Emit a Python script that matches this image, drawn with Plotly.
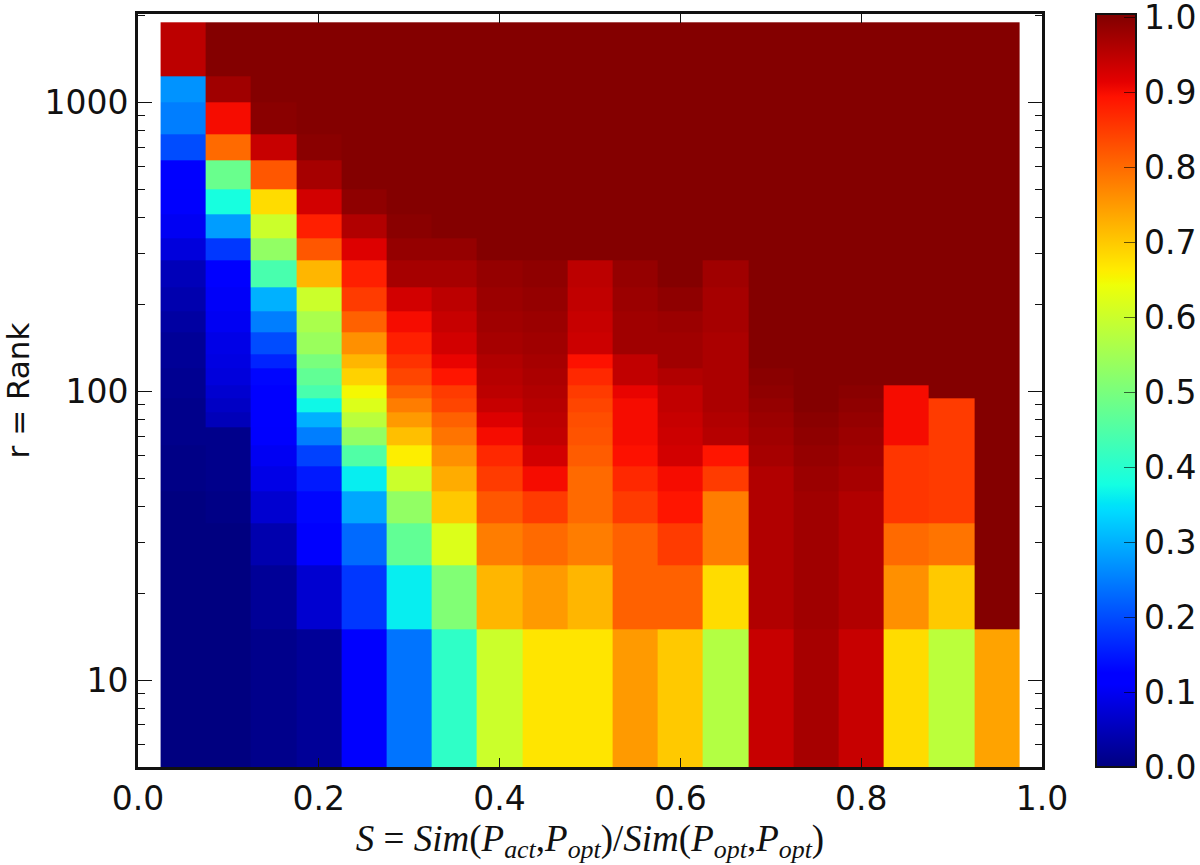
import plotly.graph_objects as go

x_edges = [0.025, 0.075, 0.125, 0.175, 0.225, 0.275, 0.325, 0.375, 0.425, 0.475, 0.525,
           0.575, 0.625, 0.675, 0.725, 0.775, 0.825, 0.875, 0.925, 0.975]
r_edges = [5, 15, 25, 35, 45, 55, 65, 75, 85, 95, 105, 120, 135, 160, 190, 230, 285, 340,
           410, 500, 630, 780, 1000, 1235, 1900]

# each column lists rank rows from the bottom (5-15) to the top (1235-1900)
s05 = [0, 0, 0, 0, .005, .005, .01, .01, .01, .015, .015, .02, .02, .03, .04, .05, .08, .10, .11, .115, .20, .25, .27, .95]
s10 = [0, 0, 0, .005, .01, .01, .01, .05, .06, .07, .08, .085, .09, .10, .105, .115, .18, .28, .38, .48, .80, .90, .975, 1]
s15 = [.01, .02, .04, .07, .09, .10, .11, .115, .12, .125, .13, .16, .20, .25, .30, .44, .53, .60, .68, .82, .94, .995, 1, 1]
s20 = [.02, .07, .11, .13, .15, .19, .25, .30, .37, .44, .47, .50, .54, .56, .60, .72, .82, .88, .93, .97, .995, 1, 1, 1]
s25 = [.115, .18, .23, .29, .36, .45, .53, .58, .62, .65, .69, .72, .76, .81, .85, .88, .92, .96, .99, 1, 1, 1, 1, 1]
s30 = [.24, .36, .47, .53, .60, .66, .71, .75, .78, .81, .84, .86, .88, .90, .93, .97, .985, .995, 1, 1, 1, 1, 1, 1]
s35 = [.41, .51, .62, .70, .73, .76, .79, .81, .84, .85, .89, .91, .93, .94, .95, .97, .985, 1, 1, 1, 1, 1, 1, 1]
s40 = [.60, .72, .78, .82, .85, .87, .90, .92, .94, .95, .955, .96, .97, .975, .98, .985, 1, 1, 1, 1, 1, 1, 1, 1]
s45 = [.67, .75, .80, .85, .90, .93, .945, .95, .955, .96, .965, .97, .975, .98, .985, .99, 1, 1, 1, 1, 1, 1, 1, 1]
s50 = [.67, .72, .78, .80, .80, .815, .825, .83, .84, .85, .87, .895, .935, .94, .945, .95, 1, 1, 1, 1, 1, 1, 1, 1]
s55 = [.75, .81, .81, .85, .87, .895, .90, .90, .90, .91, .945, .945, .975, .975, .98, .985, 1, 1, 1, 1, 1, 1, 1, 1]
s60 = [.70, .81, .85, .89, .90, .93, .935, .94, .945, .945, .96, .975, .975, .98, .99, 1, 1, 1, 1, 1, 1, 1, 1, 1]
s65 = [.57, .68, .78, .78, .85, .89, .955, .96, .965, .965, .965, .965, .965, .97, .97, .975, 1, 1, 1, 1, 1, 1, 1, 1]
s70 = [.94, .96, .96, .96, .96, .97, .975, .98, .985, .99, .995, 1, 1, 1, 1, 1, 1, 1, 1, 1, 1, 1, 1, 1]
s75 = [.97, .975, .975, .975, .98, .985, .99, .995, 1, 1, 1, 1, 1, 1, 1, 1, 1, 1, 1, 1, 1, 1, 1, 1]
s80 = [.94, .96, .96, .96, .97, .975, .98, .985, .99, .995, 1, 1, 1, 1, 1, 1, 1, 1, 1, 1, 1, 1, 1, 1]
s85 = [.68, .76, .80, .855, .855, .855, .90, .90, .90, .90, 1, 1, 1, 1, 1, 1, 1, 1, 1, 1, 1, 1, 1, 1]
s90 = [.58, .70, .79, .85, .85, .85, .85, .85, .85, 1, 1, 1, 1, 1, 1, 1, 1, 1, 1, 1, 1, 1, 1, 1]
s95 = [.74, 1, 1, 1, 1, 1, 1, 1, 1, 1, 1, 1, 1, 1, 1, 1, 1, 1, 1, 1, 1, 1, 1, 1]
columns = [s05, s10, s15, s20, s25, s30, s35, s40, s45, s50, s55, s60, s65, s70, s75, s80, s85, s90, s95]

x_ticks = [0.0, 0.2, 0.4, 0.6, 0.8, 1.0]
x_labels = ["0.0", "0.2", "0.4", "0.6", "0.8", "1.0"]
r_ticks = [10, 100, 1000]
r_labels = ["10", "100", "1000"]
r_minor = [5, 6, 7, 8, 9, 20, 30, 40, 50, 60, 70, 80, 90, 200, 300, 400, 500, 600, 700, 800, 900, 2000]
cb_ticks = [0.0, 0.1, 0.2, 0.3, 0.4, 0.5, 0.6, 0.7, 0.8, 0.9, 1.0]
cb_labels = ["0.0", "0.1", "0.2", "0.3", "0.4", "0.5", "0.6", "0.7", "0.8", "0.9", "1.0"]

# matplotlib "jet"
jet = [[0, "rgb(0,0,128)"], [0.11, "rgb(0,0,255)"], [0.125, "rgb(0,0,255)"],
       [0.34, "rgb(0,219,255)"], [0.35, "rgb(0,229,247)"], [0.375, "rgb(20,255,226)"],
       [0.64, "rgb(238,255,8)"], [0.65, "rgb(247,245,0)"], [0.66, "rgb(255,236,0)"],
       [0.89, "rgb(255,18,0)"], [0.91, "rgb(228,0,0)"], [1, "rgb(128,0,0)"]]

z = [[col[i] for col in columns] for i in range(len(r_edges) - 1)]

W, H = 1200, 865
L, R, T, B = 138, 1042, 14, 767
FONT = "DejaVu Sans"
TXT = "#111111"
TICK = 33

fig = go.Figure(go.Heatmap(
    x=x_edges, y=r_edges, z=z, zmin=0, zmax=1.004, colorscale=jet, zsmooth=False,
    colorbar=dict(
        x=1096 / W, xanchor="left", xref="container", y=1 - (T + B) / 2 / H, yanchor="middle",
        yref="container", len=(B - T) / H, lenmode="fraction", thickness=40, thicknessmode="pixels",
        outlinewidth=2, outlinecolor="#111111", ticks="inside", ticklen=13, tickwidth=1,
        tickcolor="rgba(0,0,0,0.6)", tickvals=cb_ticks, ticktext=cb_labels, ticklabeloverflow="allow",
        tickfont=dict(family=FONT, size=TICK, color=TXT), xpad=0, ypad=0, bgcolor="rgba(0,0,0,0)",
    ),
))

fig.update_layout(
    width=W, height=H, margin=dict(l=0, r=0, t=0, b=0, autoexpand=False),
    paper_bgcolor="white", plot_bgcolor="white",
    font=dict(family=FONT, color=TXT),
    xaxis=dict(
        domain=[L / W, R / W], range=[0, 1], tickvals=x_ticks, ticktext=x_labels, ticks="inside",
        ticklen=9, tickwidth=1, tickcolor="#111111", mirror="ticks", showline=True, linecolor="#111111",
        linewidth=3, showgrid=False, zeroline=False, automargin=False,
        tickfont=dict(family=FONT, size=TICK, color=TXT),
        title=dict(
            text="<i>S</i> = <i>Sim</i>(<i>P<sub>act</sub></i>,<i>P<sub>opt</sub></i>)/<i>Sim</i>(<i>P<sub>opt</sub></i>,<i>P<sub>opt</sub></i>)",
            font=dict(family="Liberation Serif", size=37, color=TXT), standoff=2),
    ),
    yaxis=dict(
        domain=[1 - B / H, 1 - T / H], type="log", range=[0.69897, 3.3075], tickvals=r_ticks,
        ticktext=r_labels, ticks="inside", ticklen=14, tickwidth=1, tickcolor="#111111", mirror="ticks",
        showline=True, linecolor="#111111", linewidth=3, showgrid=False, zeroline=False, automargin=False,
        tickfont=dict(family=FONT, size=TICK, color=TXT),
        minor=dict(tickvals=r_minor, ticks="inside", ticklen=7, tickwidth=1, tickcolor="#111111", showgrid=False),
        title=dict(text="r = Rank", font=dict(family=FONT, size=31, color=TXT), standoff=7),
    ),
)

# let the figure fill the whole window, with no default page margin
fig.write_html("out.html", config={"displayModeBar": False},
               post_script="document.body.style.margin='0';document.documentElement.style.overflow='hidden';")
